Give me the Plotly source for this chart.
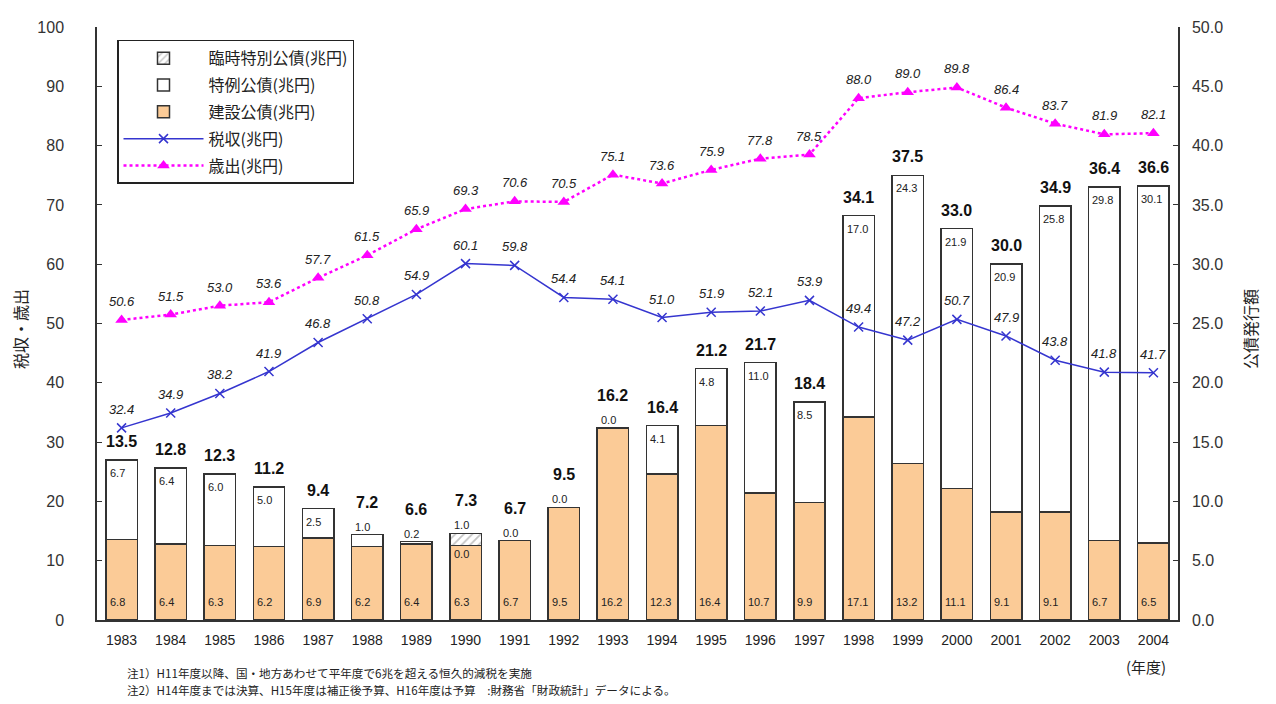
import plotly.graph_objects as go

years = [str(y) for y in range(1983, 2005)]
construction = [6.8, 6.4, 6.3, 6.2, 6.9, 6.2, 6.4, 6.3, 6.7, 9.5, 16.2, 12.3, 16.4, 10.7, 9.9, 17.1, 13.2, 11.1, 9.1, 9.1, 6.7, 6.5]
deficit = [6.7, 6.4, 6.0, 5.0, 2.5, 1.0, 0.2, 0.0, 0.0, 0.0, 0.0, 4.1, 4.8, 11.0, 8.5, 17.0, 24.3, 21.9, 20.9, 25.8, 29.8, 30.1]
temporary = [0, 0, 0, 0, 0, 0, 0, 1.0, 0, 0, 0, 0, 0, 0, 0, 0, 0, 0, 0, 0, 0, 0]
totals = [13.5, 12.8, 12.3, 11.2, 9.4, 7.2, 6.6, 7.3, 6.7, 9.5, 16.2, 16.4, 21.2, 21.7, 18.4, 34.1, 37.5, 33.0, 30.0, 34.9, 36.4, 36.6]
tax = [32.4, 34.9, 38.2, 41.9, 46.8, 50.8, 54.9, 60.1, 59.8, 54.4, 54.1, 51.0, 51.9, 52.1, 53.9, 49.4, 47.2, 50.7, 47.9, 43.8, 41.8, 41.7]
expend = [50.6, 51.5, 53.0, 53.6, 57.7, 61.5, 65.9, 69.3, 70.6, 70.5, 75.1, 73.6, 75.9, 77.8, 78.5, 88.0, 89.0, 89.8, 86.4, 83.7, 81.9, 82.1]

names = ["臨時特別公債(兆円)", "特例公債(兆円)", "建設公債(兆円)", "税収(兆円)", "歳出(兆円)"]
notes = ["注1）H11年度以降、国・地方あわせて平年度で6兆を超える恒久的減税を実施",
         "注2）H14年度までは決算、H15年度は補正後予算、H16年度は予算　:財務省「財政統計」データによる。"]

NUM = "Liberation Sans, Arial, Noto Sans CJK JP"
JP = "Noto Sans CJK JP, Liberation Sans"
EDGE = "#333333"

fig = go.Figure()
fig.add_bar(x=years, y=construction, name=names[2], marker=dict(color="#FBCB97", line=dict(color=EDGE, width=1.5)),
            width=0.64, legendrank=3, legendgroup="c")
fig.add_bar(x=years, y=deficit, name=names[1], marker=dict(color="white", line=dict(color=EDGE, width=1.5)),
            width=0.64, legendrank=2, legendgroup="d")
fig.add_bar(x=years, y=temporary, name=names[0],
            marker=dict(color="white", line=dict(color=EDGE, width=1.5),
                        pattern=dict(shape="/", fgcolor="#888888", bgcolor="white", size=6, solidity=0.3)),
            width=0.64, legendrank=1, legendgroup="t")
fig.add_scatter(x=years, y=tax, yaxis="y2", name=names[3], mode="lines+markers",
                line=dict(color="#3535CF", width=1.5),
                marker=dict(symbol="x-thin", size=9, line=dict(color="#3535CF", width=1.5)),
                legendrank=4, legendgroup="x")
fig.add_scatter(x=years, y=expend, yaxis="y2", name=names[4], mode="lines+markers",
                line=dict(color="#FF00FF", width=2.5, dash="dot"),
                marker=dict(symbol="triangle-up", size=11, color="#FF00FF"),
                legendrank=5, legendgroup="e")

SMALL = dict(size=11, family=NUM, color="#222")
ann = []
for i, yr in enumerate(years):
    top_def = construction[i] + deficit[i]
    above = 0
    if temporary[i] > 0:
        ann.append(dict(x=i, y=top_def, xref="x", yref="y", text=f"{deficit[i]:.1f}", showarrow=False,
                        xanchor="left", yanchor="top", xshift=-14, yshift=-1, font=SMALL))
        ann.append(dict(x=i, y=top_def + temporary[i], xref="x", yref="y", text=f"{temporary[i]:.1f}", showarrow=False,
                        xanchor="left", yanchor="bottom", xshift=-14, yshift=0, font=SMALL))
        above = 1
    elif deficit[i] >= 2:
        ann.append(dict(x=i, y=top_def, xref="x", yref="y", text=f"{deficit[i]:.1f}", showarrow=False,
                        xanchor="left", yanchor="top", xshift=-14, yshift=-5, font=SMALL))
    else:
        ann.append(dict(x=i, y=top_def, xref="x", yref="y", text=f"{deficit[i]:.1f}", showarrow=False,
                        xanchor="left", yanchor="bottom", xshift=-14, yshift=0, font=SMALL))
        above = 1
    ann.append(dict(x=i, y=0, xref="x", yref="y", text=f"{construction[i]:.1f}", showarrow=False,
                    xanchor="left", yanchor="bottom", xshift=-14, yshift=10, font=SMALL))
    ann.append(dict(x=i, y=construction[i] + deficit[i] + temporary[i], xref="x", yref="y", text=f"<b>{totals[i]:.1f}</b>",
                    showarrow=False, xanchor="center", yanchor="bottom", yshift=8 + 14 * above,
                    font=dict(size=16, family=NUM, color="#111")))
    ann.append(dict(x=i, y=tax[i], xref="x", yref="y2", text=f"<i>{tax[i]:.1f}</i>", showarrow=False,
                    xanchor="center", yanchor="bottom", yshift=9, font=dict(size=13, family=NUM, color="#222")))
    ann.append(dict(x=i, y=expend[i], xref="x", yref="y2", text=f"<i>{expend[i]:.1f}</i>", showarrow=False,
                    xanchor="center", yanchor="bottom", yshift=9, font=dict(size=13, family=NUM, color="#222")))

# plot area: 1081 x 601 px; page has an 8px body margin, so the figure is offset by 8px
PW, PH, PL, PB = 1081, 601, 97, 620
ann.append(dict(x=(20 - PL) / PW, y=(PB - 325) / PH, xref="paper", yref="paper", text="税収・歳出", textangle=-90,
                showarrow=False, xanchor="center", yanchor="middle", font=dict(size=16, family=JP, color="#222")))
ann.append(dict(x=(1250 - PL) / PW, y=(PB - 325) / PH, xref="paper", yref="paper", text="公債発行額", textangle=-90,
                showarrow=False, xanchor="center", yanchor="middle", font=dict(size=16, family=JP, color="#222")))
ann.append(dict(x=(1146 - PL) / PW, y=(PB - 667) / PH, xref="paper", yref="paper", text="(年度)", showarrow=False,
                xanchor="center", yanchor="middle", font=dict(size=15, family=JP, color="#222")))
ann.append(dict(x=(125 - PL) / PW, y=(PB - 674) / PH, xref="paper", yref="paper", text=notes[0], showarrow=False,
                xanchor="left", yanchor="middle", font=dict(size=11.6, family=JP, color="#222")))
ann.append(dict(x=(125 - PL) / PW, y=(PB - 691) / PH, xref="paper", yref="paper", text=notes[1], showarrow=False,
                xanchor="left", yanchor="middle", font=dict(size=11.6, family=JP, color="#222")))

fig.update_layout(
    width=1260, height=696,
    margin=dict(l=89, r=90, t=11, b=84),
    paper_bgcolor="white", plot_bgcolor="white",
    barmode="stack", bargap=0.36,
    font=dict(family=NUM, color="#222"),
    showlegend=True,
    legend=dict(x=(117 - PL) / PW, y=(PB - 32) / PH, xanchor="left", yanchor="top",
                bgcolor="white", bordercolor="#222", borderwidth=1.5,
                font=dict(size=16, family=JP, color="#222"), tracegroupgap=3, itemwidth=80),
    xaxis=dict(type="category", range=[-0.5, len(years) - 0.5], showline=True, linecolor=EDGE, linewidth=1.5, ticks="",
               tickfont=dict(size=14, family=NUM, color="#222"), showgrid=False, ticklabelstandoff=6),
    yaxis=dict(side="right", range=[0, 50], dtick=5, tickformat=".1f", showline=True, linecolor=EDGE, linewidth=1.5,
               ticks="inside", ticklen=5, tickcolor=EDGE, showgrid=False, zeroline=False,
               tickfont=dict(size=16, family=NUM, color="#333"), ticklabelstandoff=9),
    yaxis2=dict(side="left", overlaying="y", range=[0, 100], dtick=10, showline=True, linecolor=EDGE, linewidth=1.5,
                ticks="inside", ticklen=5, tickcolor=EDGE, showgrid=False, zeroline=False,
                tickfont=dict(size=16, family=NUM, color="#333"), ticklabelstandoff=28),
    annotations=ann,
)

fig.write_html("out.html")
